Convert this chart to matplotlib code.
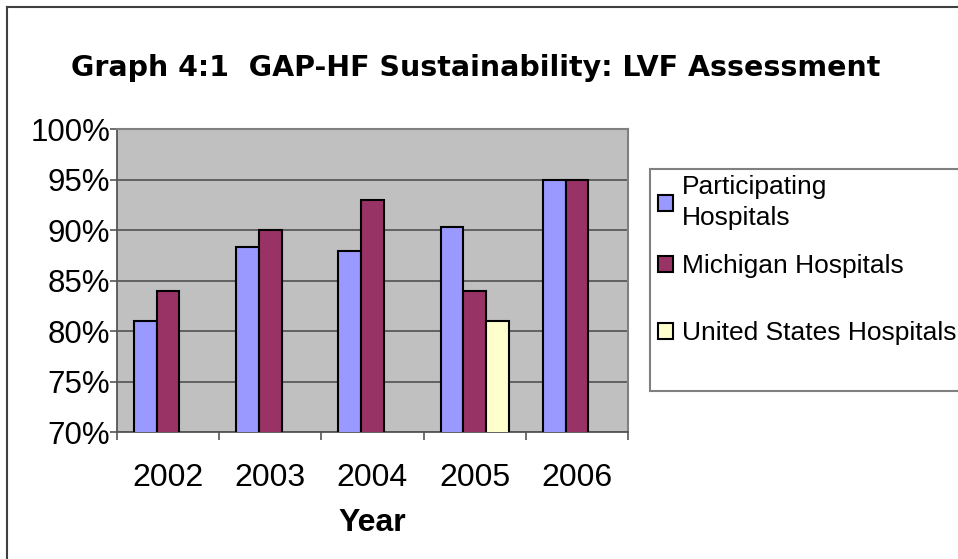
import numpy as np
import matplotlib
matplotlib.use('Agg')
import matplotlib.pyplot as plt
from matplotlib.patches import Rectangle

# Chart data (percent)
years = ['2002', '2003', '2004', '2005', '2006']
participating = [81.0, 88.3, 87.9, 90.3, 95.0]
michigan = [84.0, 90.0, 93.0, 84.0, 95.0]
us_hospitals = [np.nan, np.nan, np.nan, 81.0, np.nan]

series_names = ['Participating\nHospitals', 'Michigan Hospitals', 'United States Hospitals']
colors = ['#9999FF', '#993366', '#FFFFCC']

W, H = 958, 559
fig = plt.figure(figsize=(W / 100, H / 100), dpi=100)
fig.patch.set_facecolor('white')

# outer chart border (runs off the right and bottom edges)
fig.add_artist(plt.Line2D([7 / W, 7 / W], [0, 1 - 7 / H], color='#404040', lw=1.5))
fig.add_artist(plt.Line2D([7 / W, 1], [1 - 7 / H, 1 - 7 / H], color='#404040', lw=1.5))

ax = fig.add_axes([117 / W, 127 / H, (628 - 117) / W, (432 - 129) / H])
ax.set_facecolor('#C0C0C0')

x = np.arange(len(years))
w = 1 / 4.5
for i, vals in enumerate([participating, michigan, us_hospitals]):
    ax.bar(x + (i - 1) * w, vals, width=w, bottom=0, color=colors[i],
           edgecolor='black', linewidth=1.5, label=series_names[i], zorder=3)

ax.set_ylim(70, 100)
ax.set_xlim(-0.5, len(years) - 0.5)
ax.set_yticks(range(70, 101, 5))
ax.set_yticklabels([f'{v}%' for v in range(70, 101, 5)], fontfamily='Liberation Sans', fontsize=22.5)
ax.yaxis.grid(True, color='#5a5a5a', linewidth=1.3, zorder=1)
ax.tick_params(axis='y', length=5, width=1.2, color='#555555', pad=0)

ax.set_xticks(np.arange(-0.5, len(years), 1.0))
ax.set_xticklabels([])
ax.tick_params(axis='x', which='major', length=5.8, width=1.2, color='#555555')
ax.set_xticks(x, minor=True)
ax.set_xticklabels(years, minor=True, fontfamily='Liberation Sans', fontsize=23)
ax.tick_params(axis='x', which='minor', length=0, pad=22)

for side in ['top', 'right']:
    ax.spines[side].set_color('#808080')
    ax.spines[side].set_linewidth(1.5)
for side in ['left', 'bottom']:
    ax.spines[side].set_color('#555555')
    ax.spines[side].set_linewidth(1.3)

ax.set_xlabel('Year', fontfamily='Liberation Sans', fontsize=23, fontweight='bold', labelpad=11)

fig.text(71 / W, 1 - 68 / H, 'Graph 4:1  GAP-HF Sustainability: LVF Assessment',
         fontfamily='DejaVu Sans', fontweight='bold', fontsize=20.5, va='center', ha='left')

# legend frame
fig.add_artist(Rectangle((650 / W, 1 - 391 / H), 400 / W, 222 / H, transform=fig.transFigure,
                         facecolor='white', edgecolor='#808080', linewidth=1.5))
handles, labels = ax.get_legend_handles_labels()
leg_kw = dict(frameon=False, prop={'family': 'Liberation Sans', 'size': 19},
              handlelength=0.57, handleheight=0.57, handletextpad=0.33,
              borderpad=0.2, borderaxespad=0)
leg1 = fig.legend(handles[:2], labels[:2], loc='upper left',
                  bbox_to_anchor=(653 / W, 1 - 170 / H), labelspacing=0.9, **leg_kw)
leg2 = fig.legend(handles[2:], labels[2:], loc='center left',
                  bbox_to_anchor=(653 / W, 1 - 333 / H), **leg_kw)
for leg in (leg1, leg2):
    for t in leg.get_texts():
        t.set_linespacing(1.38)
    for p in leg.get_patches():
        p.set_linewidth(1.5)

fig.savefig('out.png', dpi=100)
